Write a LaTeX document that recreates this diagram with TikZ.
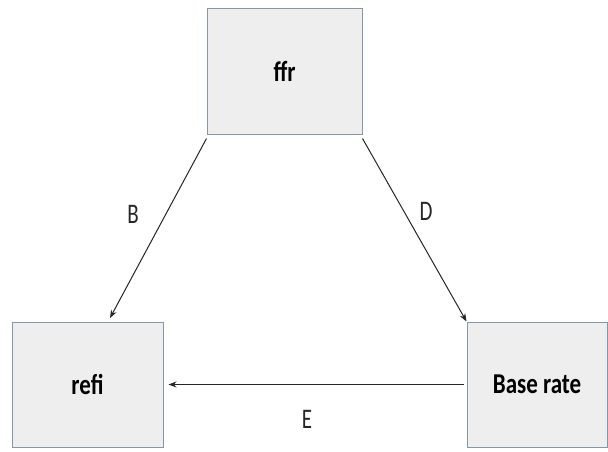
\documentclass[tikz,border=0pt]{standalone}
\usepackage{fontspec}
\setmainfont{Carlito}
\usetikzlibrary{arrows.meta}
\definecolor{boxfill}{HTML}{EEEEEE}
\definecolor{boxline}{HTML}{8495AD}
\newcommand{\tallbox}[1]{\scalebox{1}[1.25]{#1}}
\newcommand{\talllbl}[1]{\scalebox{1}[1.35]{#1}}
\begin{document}
\begin{tikzpicture}[x=1pt,y=-1pt,
  box/.style={draw=boxline, line width=1pt, fill=boxfill, inner sep=0pt,
    font=\bfseries\fontsize{23}{27}\selectfont},
  link/.style={draw=black!85, line width=1pt, -{Stealth[length=8pt,width=6pt]}},
  lbl/.style={font=\fontsize{21}{25}\selectfont, text=black!85}]
\useasboundingbox (0,0) rectangle (608,451);
\fill[white] (0,0) rectangle (608,451);
% three boxes
\node[box, minimum width=155pt, minimum height=126pt] (ffr) at (284.5,71) {\tallbox{ffr}};
\node[box, minimum width=151pt, minimum height=125pt] (refi) at (87.5,384.5) {\tallbox{refi}};
\node[box, minimum width=140pt, minimum height=125pt] (base) at (537,384.5) {\tallbox{Base rate}};
% connector end points
\coordinate (bs) at ([yshift=-4pt]ffr.south west);
\coordinate (be) at (110,318);
\coordinate (ds) at ([yshift=-4pt]ffr.south east);
% connectors
\draw[link] (bs) -- (be);
\draw[link] (ds) -- (base.north west);
\draw[link] ([xshift=-3pt]base.west) -- ([xshift=5pt]refi.east);
% labels
\node[lbl] (lb) at (133,214) {\talllbl{B}};
\node[lbl] (ld) at (426,211) {\talllbl{D}};
\node[lbl] (le) at (307,419) {\talllbl{E}};
\end{tikzpicture}
\end{document}
